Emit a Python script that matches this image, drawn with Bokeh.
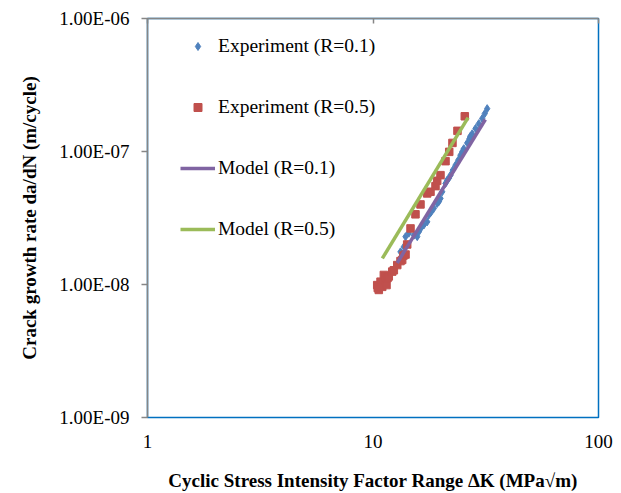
from bokeh.plotting import figure
from bokeh.models import (LogAxis, FixedTicker, CustomJSTickFormatter, Legend, LegendItem)
from bokeh.embed import file_html
from bokeh.resources import INLINE

# ---- data ----
k_exp_r01 = [13.24, 13.47, 13.70, 13.94, 14.41, 15.2, 15.71, 15.97, 16.3, 16.80, 17.39, 17.68,
             18.1, 18.61, 19.26, 19.6, 19.92, 20.27, 20.97, 21.33, 21.7, 22.07, 22.59, 23.22,
             23.87, 24.43, 24.9, 25.27, 26.17, 26.79, 27.0, 27.54, 28.49, 29.46, 30.50, 31.31, 32.09]
da_exp_r01 = [1.76e-8, 1.67e-8, 1.92e-8, 2.29e-8, 2.43e-8, 2.35e-8, 2.29e-8, 2.49e-8, 2.65e-8,
              2.80e-8, 2.96e-8, 3.33e-8, 3.50e-8, 3.74e-8, 4.07e-8, 4.20e-8, 4.44e-8, 4.98e-8,
              5.75e-8, 6.09e-8, 6.30e-8, 6.64e-8, 7.24e-8, 7.89e-8, 8.60e-8, 9.38e-8, 1.00e-7,
              1.05e-7, 1.16e-7, 1.25e-7, 1.30e-7, 1.36e-7, 1.49e-7, 1.62e-7, 1.77e-7, 1.93e-7, 2.10e-7]

k_exp_r05 = [10.44, 10.50, 10.61, 10.80, 10.99, 11.17, 11.36, 11.48, 11.60, 11.75, 12.17, 12.37,
             12.81, 13.24, 13.47, 13.65, 13.94, 14.18, 14.67, 15.43, 16.24, 17.39, 17.99, 18.93,
             19.26, 19.92, 20.97, 21.78, 22.51, 23.69, 25.53]
da_exp_r05 = [9.9e-9, 9.4e-9, 9.1e-9, 1.05e-8, 9.6e-9, 1.18e-8, 1.08e-8, 9.9e-9, 1.12e-8, 1.15e-8,
              1.25e-8, 1.28e-8, 1.40e-8, 1.50e-8, 1.53e-8, 1.65e-8, 1.68e-8, 2.0e-8, 2.64e-8,
              3.37e-8, 4.0e-8, 4.84e-8, 4.98e-8, 5.49e-8, 6.02e-8, 6.64e-8, 8.46e-8, 9.94e-8,
              1.16e-7, 1.43e-7, 1.84e-7]

k_model_r01 = [12.8, 31.5]
da_model_r01 = [1.45e-8, 1.74e-7]
k_model_r05 = [11.0, 26.4]
da_model_r05 = [1.57e-8, 1.80e-7]

x_ticks = [1, 10, 100]
y_ticks = [1e-9, 1e-8, 1e-7, 1e-6]

FONT = "Liberation Serif"
GRAY = "#868686"
BLUE = "#0070C0"

p = figure(width=621, height=493, x_axis_type="log", y_axis_type="log",
           x_range=(1, 100), y_range=(1e-9, 1e-6),
           output_backend="svg", toolbar_location=None,
           min_border_left=147, min_border_right=23, min_border_top=18, min_border_bottom=75,
           outline_line_color=BLUE, outline_line_width=1.5)
p.grid.visible = False
p.background_fill_color = "white"
p.border_fill_color = "white"

r1 = p.scatter(k_exp_r01, da_exp_r01, marker="diamond", size=8, color="#4F81BD")
r2 = p.scatter(k_exp_r05, da_exp_r05, marker="square", size=7.5, color="#C0504D")
r3 = p.line(k_model_r01, da_model_r01, line_width=3.5, color="#8064A2")
r4 = p.line(k_model_r05, da_model_r05, line_width=3.5, color="#9BBB59")

# bottom axis: labels only
xa = p.xaxis[0]
xa.ticker = FixedTicker(ticks=x_ticks, minor_ticks=[])
xa.formatter = CustomJSTickFormatter(code="return tick.toFixed(0);")
xa.axis_line_color = None
xa.major_tick_line_color = None
xa.minor_tick_line_color = None
xa.major_label_text_font = FONT
xa.major_label_text_font_size = "19px"
xa.major_label_text_color = "black"
xa.major_label_standoff = 11
xa.axis_label = "Cyclic Stress Intensity Factor Range \u0394K (MPa\u221am)"
xa.axis_label_text_font = FONT
xa.axis_label_text_font_style = "bold"
xa.axis_label_text_font_size = "19px"
xa.axis_label_text_color = "black"
xa.axis_label_standoff = 19

ya = p.yaxis[0]
ya.ticker = FixedTicker(ticks=y_ticks, minor_ticks=[])
ya.formatter = CustomJSTickFormatter(code="""
const e = Math.round(Math.log10(tick));
const m = tick / Math.pow(10, e);
const a = Math.abs(e);
return m.toFixed(2) + 'E' + (e < 0 ? '-' : '+') + (a < 10 ? '0' : '') + a;
""")
ya.axis_line_color = GRAY
ya.axis_line_width = 1.5
ya.major_tick_line_color = GRAY
ya.major_tick_line_width = 1.5
ya.major_tick_out = 6
ya.major_tick_in = 0
ya.minor_tick_line_color = None
ya.major_label_text_font = FONT
ya.major_label_text_font_size = "19px"
ya.major_label_text_color = "black"
ya.major_label_standoff = 12
ya.axis_label = "Crack growth rate da/dN (m/cycle)"
ya.axis_label_text_font = FONT
ya.axis_label_text_font_style = "bold"
ya.axis_label_text_font_size = "19px"
ya.axis_label_text_color = "black"
ya.axis_label_standoff = 16

top = LogAxis(ticker=FixedTicker(ticks=x_ticks, minor_ticks=[]),
              formatter=CustomJSTickFormatter(code="return '';"),
              axis_line_color=GRAY, axis_line_width=1.5,
              major_tick_line_color=GRAY, major_tick_line_width=1.5,
              major_tick_in=5, major_tick_out=0, minor_tick_line_color=None,
              major_label_text_font_size="1px", major_label_standoff=0)
p.add_layout(top, "above")

legend = Legend(items=[LegendItem(label="Experiment (R=0.1)", renderers=[r1]),
                       LegendItem(label="Experiment (R=0.5)", renderers=[r2]),
                       LegendItem(label="Model (R=0.1)", renderers=[r3]),
                       LegendItem(label="Model (R=0.5)", renderers=[r4])],
                location=(33, 177), border_line_color=None, background_fill_alpha=0,
                padding=0, margin=0, spacing=39, glyph_width=35, glyph_height=20,
                label_height=20, label_standoff=3,
                label_text_font=FONT, label_text_font_size="19.5px", label_text_color="black")
p.add_layout(legend, "center")

open("out.html", "w").write(file_html(p, INLINE))
